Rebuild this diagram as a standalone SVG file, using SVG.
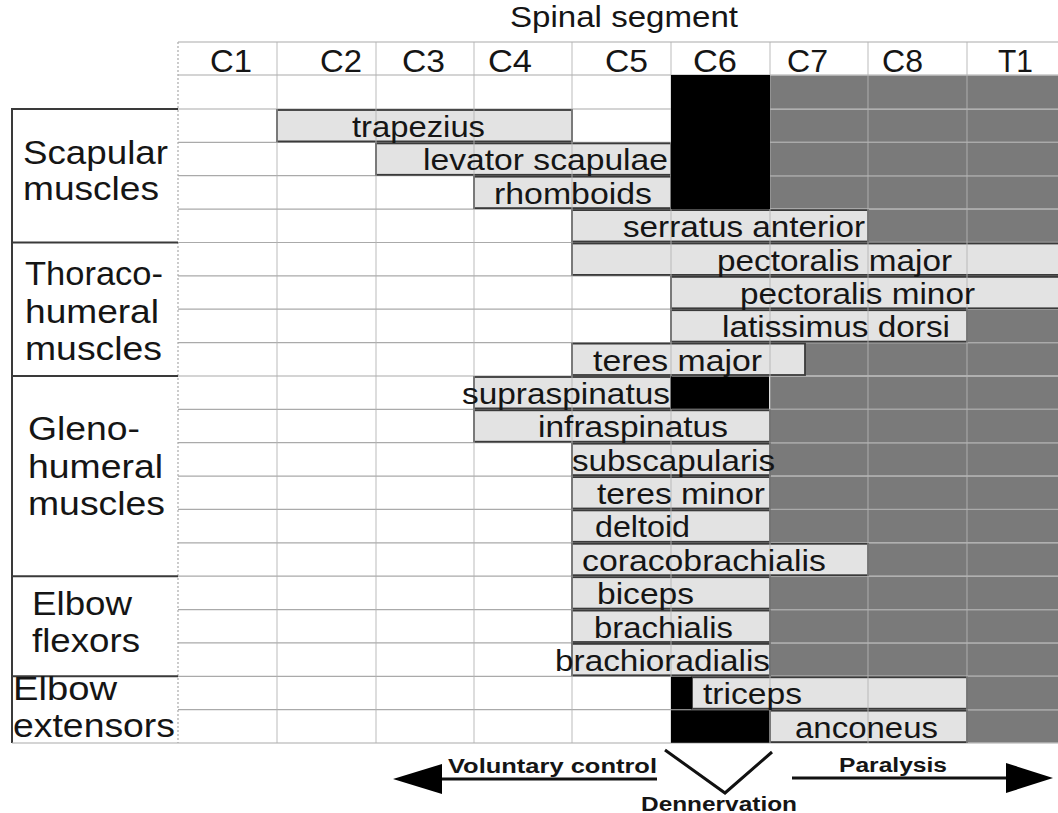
<svg xmlns="http://www.w3.org/2000/svg" width="1058" height="813" viewBox="0 0 1058 813">
<style>
text{font-family:"Liberation Sans",Arial,sans-serif;fill:#151515}
.hdr{font-size:31px}
.lab{font-size:34px}
.bt{font-size:29.5px}
.bold{font-size:20px;font-weight:bold}
.gl{stroke:#aaaaaa;stroke-width:1.2}
.vl{stroke:#b4b4b4;stroke-width:1.2;opacity:.75}
.dk{fill:#7a7a7a}
.bk{fill:#000}
.bar{fill:#e3e3e3;stroke:#3a3a3a;stroke-width:1.8}
.box{stroke:#3a3a3a;stroke-width:2}
.conn{stroke:#111;stroke-width:3;fill:none}
</style>
<rect width="1058" height="813" fill="#fff"/>

<g id="grid">
<line class="gl" x1="178" y1="42" x2="1058" y2="42"/>
<line class="gl" x1="178" y1="75" x2="1058" y2="75"/>
<line class="gl" x1="178" y1="109" x2="1058" y2="109"/>
<line class="gl" x1="178" y1="142.4" x2="1058" y2="142.4"/>
<line class="gl" x1="178" y1="175.7" x2="1058" y2="175.7"/>
<line class="gl" x1="178" y1="209.1" x2="1058" y2="209.1"/>
<line class="gl" x1="178" y1="242.5" x2="1058" y2="242.5"/>
<line class="gl" x1="178" y1="275.9" x2="1058" y2="275.9"/>
<line class="gl" x1="178" y1="309.2" x2="1058" y2="309.2"/>
<line class="gl" x1="178" y1="342.6" x2="1058" y2="342.6"/>
<line class="gl" x1="178" y1="376" x2="1058" y2="376"/>
<line class="gl" x1="178" y1="409.3" x2="1058" y2="409.3"/>
<line class="gl" x1="178" y1="442.7" x2="1058" y2="442.7"/>
<line class="gl" x1="178" y1="476.1" x2="1058" y2="476.1"/>
<line class="gl" x1="178" y1="509.4" x2="1058" y2="509.4"/>
<line class="gl" x1="178" y1="542.8" x2="1058" y2="542.8"/>
<line class="gl" x1="178" y1="576.2" x2="1058" y2="576.2"/>
<line class="gl" x1="178" y1="609.6" x2="1058" y2="609.6"/>
<line class="gl" x1="178" y1="642.9" x2="1058" y2="642.9"/>
<line class="gl" x1="178" y1="676.3" x2="1058" y2="676.3"/>
<line class="gl" x1="178" y1="709.7" x2="1058" y2="709.7"/>
<line class="gl" x1="178" y1="743" x2="1058" y2="743"/>
<line class="gl" x1="178" y1="42" x2="178" y2="743" stroke-dasharray="2 2"/>
</g>

<g id="paralysed-cells">
<rect class="dk" x="770" y="75.6" width="288" height="33"/>
<rect class="dk" x="770" y="109.6" width="288" height="32.2"/>
<rect class="dk" x="770" y="143" width="288" height="32.2"/>
<rect class="dk" x="770" y="176.3" width="288" height="32.2"/>
<rect class="dk" x="868" y="209.7" width="190" height="32.2"/>
<rect class="dk" x="967" y="309.8" width="91" height="32.2"/>
<rect class="dk" x="805" y="343.2" width="253" height="32.2"/>
<rect class="dk" x="770" y="376.6" width="288" height="32.2"/>
<rect class="dk" x="770" y="409.9" width="288" height="32.2"/>
<rect class="dk" x="770" y="443.3" width="288" height="32.2"/>
<rect class="dk" x="770" y="476.7" width="288" height="32.2"/>
<rect class="dk" x="770" y="510" width="288" height="32.2"/>
<rect class="dk" x="868" y="543.4" width="190" height="32.2"/>
<rect class="dk" x="770" y="576.8" width="288" height="32.2"/>
<rect class="dk" x="770" y="610.2" width="288" height="32.2"/>
<rect class="dk" x="770" y="643.5" width="288" height="32.2"/>
<rect class="dk" x="967" y="676.9" width="91" height="32.2"/>
<rect class="dk" x="967" y="710.3" width="91" height="32.2"/>
</g>

<g id="muscle-bars">
<rect class="bar" x="277" y="110" width="295" height="31.4"/>
<rect class="bar" x="376" y="143.4" width="295" height="31.4"/>
<rect class="bar" x="474" y="176.7" width="197" height="31.4"/>
<rect class="bar" x="572" y="210.1" width="296" height="31.4"/>
<rect class="bar" x="572" y="243.5" width="490" height="31.4"/>
<rect class="bar" x="671" y="276.9" width="391" height="31.4"/>
<rect class="bar" x="671" y="310.2" width="296" height="31.4"/>
<rect class="bar" x="572" y="343.6" width="233" height="31.4"/>
<rect class="bar" x="474" y="377" width="197" height="31.4"/>
<rect class="bar" x="474" y="410.3" width="296" height="31.4"/>
<rect class="bar" x="572" y="443.7" width="198" height="31.4"/>
<rect class="bar" x="572" y="477.1" width="198" height="31.4"/>
<rect class="bar" x="572" y="510.4" width="198" height="31.4"/>
<rect class="bar" x="572" y="543.8" width="296" height="31.4"/>
<rect class="bar" x="572" y="577.2" width="198" height="31.4"/>
<rect class="bar" x="572" y="610.6" width="198" height="31.4"/>
<rect class="bar" x="572" y="643.9" width="198" height="31.4"/>
<rect class="bar" x="692" y="677.3" width="275" height="31.4"/>
<rect class="bar" x="770" y="710.7" width="197" height="31.4"/>
</g>

<g id="column-lines">
<line class="vl" x1="277" y1="42" x2="277" y2="743"/>
<line class="vl" x1="376" y1="42" x2="376" y2="743"/>
<line class="vl" x1="474" y1="42" x2="474" y2="743"/>
<line class="vl" x1="572" y1="42" x2="572" y2="743"/>
<line class="vl" x1="671" y1="42" x2="671" y2="743"/>
<line class="vl" x1="770" y1="42" x2="770" y2="743"/>
<line class="vl" x1="868" y1="42" x2="868" y2="743"/>
<line class="vl" x1="967" y1="42" x2="967" y2="743"/>
</g>

<g id="denervated-cells">
<rect class="bk" x="671" y="75" width="99" height="134.1"/>
<rect class="bk" x="671" y="376.5" width="98" height="32.3"/>
<rect class="bk" x="671" y="676.8" width="21" height="32.4"/>
<rect class="bk" x="671" y="710.2" width="98" height="32.6"/>
</g>

<g id="header">
<text x="510" y="27" font-size="30" textLength="228" lengthAdjust="spacingAndGlyphs">Spinal segment</text>
<text class="hdr" x="210" y="72" textLength="42" lengthAdjust="spacingAndGlyphs">C1</text>
<text class="hdr" x="320" y="72" textLength="42" lengthAdjust="spacingAndGlyphs">C2</text>
<text class="hdr" x="402" y="72" textLength="43" lengthAdjust="spacingAndGlyphs">C3</text>
<text class="hdr" x="488" y="72" textLength="44" lengthAdjust="spacingAndGlyphs">C4</text>
<text class="hdr" x="605" y="72" textLength="43" lengthAdjust="spacingAndGlyphs">C5</text>
<text class="hdr" x="693" y="72" textLength="44" lengthAdjust="spacingAndGlyphs">C6</text>
<text class="hdr" x="787" y="72" textLength="41" lengthAdjust="spacingAndGlyphs">C7</text>
<text class="hdr" x="882" y="72" textLength="41" lengthAdjust="spacingAndGlyphs">C8</text>
<text class="hdr" x="998" y="72" textLength="35" lengthAdjust="spacingAndGlyphs">T1</text>
</g>

<g id="group-labels">
<line class="box" x1="12" y1="108" x2="12" y2="743"/>
<line class="box" x1="12" y1="109" x2="178" y2="109"/>
<line class="box" x1="12" y1="242.5" x2="178" y2="242.5"/>
<line class="box" x1="12" y1="376" x2="178" y2="376"/>
<line class="box" x1="12" y1="576.2" x2="178" y2="576.2"/>
<line class="box" x1="12" y1="676.3" x2="178" y2="676.3"/>
<line class="gl" x1="12" y1="743" x2="178" y2="743"/>
<g id="scapular">
<text class="lab" x="23" y="164" textLength="145" lengthAdjust="spacingAndGlyphs">Scapular</text>
<text class="lab" x="23" y="200" textLength="136" lengthAdjust="spacingAndGlyphs">muscles</text>
</g>
<g id="thoracohumeral">
<text class="lab" x="25" y="285" textLength="138" lengthAdjust="spacingAndGlyphs">Thoraco-</text>
<text class="lab" x="25" y="323" textLength="134" lengthAdjust="spacingAndGlyphs">humeral</text>
<text class="lab" x="25" y="360" textLength="137" lengthAdjust="spacingAndGlyphs">muscles</text>
</g>
<g id="glenohumeral">
<text class="lab" x="28" y="440" textLength="112" lengthAdjust="spacingAndGlyphs">Gleno-</text>
<text class="lab" x="28" y="478" textLength="135" lengthAdjust="spacingAndGlyphs">humeral</text>
<text class="lab" x="28" y="515" textLength="137" lengthAdjust="spacingAndGlyphs">muscles</text>
</g>
<g id="elbow-flexors">
<text class="lab" x="32" y="615" textLength="100" lengthAdjust="spacingAndGlyphs">Elbow</text>
<text class="lab" x="32" y="652" textLength="108" lengthAdjust="spacingAndGlyphs">flexors</text>
</g>
<g id="elbow-extensors">
<text class="lab" x="13" y="700" textLength="104" lengthAdjust="spacingAndGlyphs">Elbow</text>
<text class="lab" x="13" y="737" textLength="162" lengthAdjust="spacingAndGlyphs">extensors</text>
</g>
</g>

<g id="muscle-labels">
<text class="bt" x="352" y="137" textLength="133" lengthAdjust="spacingAndGlyphs">trapezius</text>
<text class="bt" x="423" y="170.4" textLength="245" lengthAdjust="spacingAndGlyphs">levator scapulae</text>
<text class="bt" x="494" y="203.7" textLength="158" lengthAdjust="spacingAndGlyphs">rhomboids</text>
<text class="bt" x="623" y="237.1" textLength="242" lengthAdjust="spacingAndGlyphs">serratus anterior</text>
<text class="bt" x="717" y="270.5" textLength="235" lengthAdjust="spacingAndGlyphs">pectoralis major</text>
<text class="bt" x="740" y="303.9" textLength="235" lengthAdjust="spacingAndGlyphs">pectoralis minor</text>
<text class="bt" x="722" y="337.2" textLength="228" lengthAdjust="spacingAndGlyphs">latissimus dorsi</text>
<text class="bt" x="593" y="370.6" textLength="169" lengthAdjust="spacingAndGlyphs">teres major</text>
<text class="bt" x="462" y="404" textLength="208" lengthAdjust="spacingAndGlyphs">supraspinatus</text>
<text class="bt" x="538" y="437.3" textLength="190" lengthAdjust="spacingAndGlyphs">infraspinatus</text>
<text class="bt" x="572" y="470.7" textLength="203" lengthAdjust="spacingAndGlyphs">subscapularis</text>
<text class="bt" x="597" y="504.1" textLength="168" lengthAdjust="spacingAndGlyphs">teres minor</text>
<text class="bt" x="595" y="537.4" textLength="95" lengthAdjust="spacingAndGlyphs">deltoid</text>
<text class="bt" x="582" y="570.8" textLength="244" lengthAdjust="spacingAndGlyphs">coracobrachialis</text>
<text class="bt" x="597" y="604.2" textLength="97" lengthAdjust="spacingAndGlyphs">biceps</text>
<text class="bt" x="594" y="637.6" textLength="139" lengthAdjust="spacingAndGlyphs">brachialis</text>
<text class="bt" x="555" y="670.9" textLength="215" lengthAdjust="spacingAndGlyphs">brachioradialis</text>
<text class="bt" x="703" y="704.3" textLength="99" lengthAdjust="spacingAndGlyphs">triceps</text>
<text class="bt" x="795" y="737.7" textLength="143" lengthAdjust="spacingAndGlyphs">anconeus</text>
</g>

<g id="connectors">
<line class="conn" x1="440" y1="779" x2="657" y2="779"/>
<polygon points="393,779 442,764 442,794" fill="#000"/>
<line class="conn" x1="792" y1="778" x2="1008" y2="778"/>
<polygon points="1053,778 1006,763 1006,793" fill="#000"/>
<polyline class="conn" points="665,750 725,793 772,752" stroke="#000"/>
</g>

<g id="axis-labels">
<text class="bold" x="448" y="773" textLength="209" lengthAdjust="spacingAndGlyphs">Voluntary control</text>
<text class="bold" x="839" y="772" textLength="108" lengthAdjust="spacingAndGlyphs">Paralysis</text>
<text class="bold" x="641" y="811" textLength="156" lengthAdjust="spacingAndGlyphs">Dennervation</text>
</g>
</svg>
